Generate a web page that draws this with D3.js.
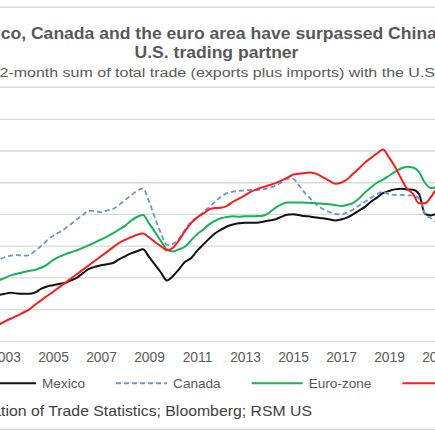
<!DOCTYPE html>
<html>
<head>
<meta charset="utf-8">
<script src="https://cdn.jsdelivr.net/npm/d3@7"></script>
<style>
  body { margin: 0; background: #fff; }
  svg { display: block; font-family: "Liberation Sans", Arial, sans-serif; }
</style>
</head>
<body>
<div id="chart"></div>
<script>
// quarterly points, 2002 Q3 through 2021 Q2 (12-month sums, $bn)
const firstQuarter = new Date(2002, 6, 1)
const endQuarter = new Date(2021, 6, 1)
const quarters = d3.timeMonth.every(3).range(firstQuarter, endQuarter)

const seriesNames = ["Mexico", "Canada", "Euro-zone", "China"]
const seriesColors = ["#111111", "#6b95d2", "#16b455", "#ff1a1a"]

const mexico = [244, 246, 250, 253, 251, 250, 250, 254, 265, 273, 277, 281, 284, 292, 301, 315,
  328, 335, 340, 343, 347, 358, 368, 377, 384, 390, 366, 342, 317, 292, 306, 327,
  350, 362, 385, 404, 423, 440, 452, 462, 468, 472, 474, 474, 474, 477, 481, 484,
  492, 499, 501, 498, 495, 493, 490, 488, 485, 481, 484, 490, 500, 512, 524, 540,
  553, 567, 574, 579, 581, 579, 578, 565, 502, 497, 503, 510]

const canada = [352, 358, 365, 370, 372, 370, 372, 385, 400, 418, 432, 443, 455, 470, 485, 498,
  512, 510, 507, 512, 517, 530, 545, 560, 574, 582, 541, 490, 440, 404, 407, 424,
  452, 476, 490, 506, 522, 540, 556, 567, 572, 574, 576, 577, 577, 579, 583, 590,
  600, 612, 612, 592, 568, 548, 530, 517, 508, 502, 500, 506, 515, 528, 540, 553,
  563, 572, 564, 562, 562, 560, 560, 550, 504, 488, 475, 470]

const euroZone = [282, 292, 300, 308, 313, 318, 322, 325, 332, 342, 356, 366, 374, 381, 387, 395,
  403, 412, 421, 430, 440, 452, 464, 480, 492, 498, 472, 445, 416, 390, 383, 390,
  398, 418, 437, 452, 468, 480, 488, 492, 494, 493, 494, 494, 495, 496, 505, 520,
  531, 538, 538, 538, 537, 536, 535, 534, 532, 530, 527, 530, 536, 550, 569, 585,
  600, 610, 622, 634, 645, 650, 648, 634, 600, 583, 588, 600]

const china = [138, 152, 163, 172, 180, 190, 200, 215, 229, 243, 256, 270, 284, 298, 312, 326,
  340, 354, 368, 382, 396, 410, 420, 428, 436, 440, 428, 413, 400, 387, 395, 418,
  447, 472, 490, 502, 515, 520, 521, 527, 540, 550, 560, 572, 580, 586, 592, 598,
  606, 615, 625, 628, 631, 632, 627, 617, 607, 597, 600, 610, 628, 645, 664, 678,
  692, 705, 680, 651, 615, 582, 565, 535, 535, 555, 582, 595]

const tickYears = [2001, 2003, 2005, 2007, 2009, 2011, 2013, 2015, 2017, 2019, 2021]
const gridValues = [100, 200, 300, 400, 500, 600, 700, 800]

const titleLine1 = "Mexico, Canada and the euro area have surpassed China as the top"
const titleLine2 = "U.S. trading partner"
const subtitle = "12-month sum of total trade (exports plus imports) with the U.S."
const sourceText = "Source: U.S. Census Bureau; China General Administration of Trade Statistics; Bloomberg; RSM US"

const W = 435, H = 435
const svg = d3.select("#chart").append("svg")
    .attr("width", W).attr("height", H)
svg.append("rect").attr("width", W).attr("height", H).attr("fill", "#fff")

// frame rules
;[7.3, 87.3, 429.3].forEach(function(y) {
  svg.append("line").attr("x1", 0).attr("x2", W).attr("y1", y).attr("y2", y)
    .attr("stroke", "#d9d9d9").attr("stroke-width", 1.4)
})

function addText(str, x, y, size, opts) {
  opts = opts || {}
  const sx = opts.sx || 1
  const t = svg.append("text")
    .attr("transform", "translate(" + x + "," + y + ") scale(" + sx + ",1)")
    .attr("text-anchor", opts.anchor || "start")
    .attr("font-size", size + "px")
    .attr("font-weight", opts.bold ? "bold" : "normal")
    .attr("fill", opts.fill || "#595959")
    .text(str)
  return t
}

// title, left part is cut off by the crop, so line up "co," with the left edge
const titleSx = 1.065
let t1 = addText(titleLine1, 0, 39.3, 16.5, {bold: true, sx: titleSx})
let cut = t1.node().getSubStringLength(0, 4) * titleSx
t1.attr("transform", "translate(" + (0.7 - cut) + ",39.3) scale(" + titleSx + ",1)")
addText(titleLine2, 216.5, 58.3, 16.5, {bold: true, sx: titleSx, anchor: "middle"})

const subSx = 1.185
let st = addText(subtitle, 0, 77.3, 13.5, {sx: subSx})
cut = st.node().getSubStringLength(0, 1) * subSx
st.attr("transform", "translate(" + (-0.5 - cut) + ",77.3) scale(" + subSx + ",1)")

// scales
const x = d3.scaleTime()
    .domain([new Date(2003, 0, 1), new Date(2021, 0, 1)])
    .range([5, 437])
const y = d3.scaleLinear().domain([100, 800]).range([341.3, 119.3])

svg.append("g").selectAll("line").data(gridValues).enter().append("line")
    .attr("x1", 0).attr("x2", W)
    .attr("y1", function(d) { return y(d) }).attr("y2", function(d) { return y(d) })
    .attr("stroke", "#d9d9d9").attr("stroke-width", 1.3)

const xAxis = svg.append("g")
    .attr("transform", "translate(0," + y(100) + ")")
    .call(d3.axisBottom(x)
      .tickValues(tickYears.map(function(yr) { return new Date(yr, 0, 1) }))
      .tickFormat(d3.timeFormat("%Y"))
      .tickSize(0).tickPadding(11))
xAxis.select(".domain").remove()
xAxis.selectAll("text")
    .attr("font-family", "Liberation Sans, Arial, sans-serif")
    .attr("font-size", "13.8px").attr("fill", "#595959")

const allSeries = [mexico, canada, euroZone, china]
const line = d3.line()
    .x(function(d, i) { return x(quarters[i]) })
    .y(function(d) { return y(d) })
    .curve(d3.curveMonotoneX)

allSeries.forEach(function(vals, k) {
  svg.append("path").datum(vals)
    .attr("d", line)
    .attr("fill", "none")
    .attr("stroke", seriesColors[k])
    .attr("stroke-width", k == 1 ? 1.8 : 2)
    .attr("stroke-dasharray", k == 1 ? "5,3" : null)
    .attr("stroke-linejoin", "round")
})

// legend
let cx = -15
seriesNames.forEach(function(name, k) {
  svg.append("line").attr("x1", cx).attr("x2", cx + 51)
    .attr("y1", 383.3).attr("y2", 383.3)
    .attr("stroke", seriesColors[k]).attr("stroke-width", 2)
    .attr("stroke-dasharray", k == 1 ? "5,3" : null)
  const lt = addText(name, cx + 57, 388.3, 13, {sx: 1.046})
  cx = cx + 57 + lt.node().getComputedTextLength() * 1.046 + 31
})

addText(sourceText, 312, 416, 14, {sx: 1.13, anchor: "end", fill: "#404040"})
</script>
</body>
</html>
